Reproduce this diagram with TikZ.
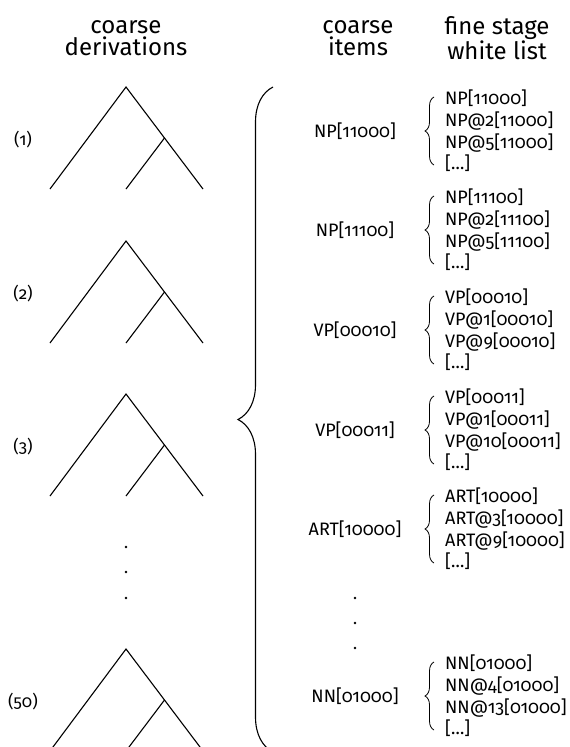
\documentclass[tikz,border=0pt]{standalone}
\usepackage{fontspec}
\setmainfont{Fira Sans}[Numbers=OldStyle]
\usetikzlibrary{positioning,decorations.pathreplacing}

\begin{document}
\begin{tikzpicture}[
  x=1pt, y=-1pt,
  header/.style={align=center, font=\fontsize{24}{22.5}\selectfont},
  item/.style={font=\fontsize{18}{20}\selectfont},
  number/.style={font=\fontsize{17}{20}\selectfont},
  whitelist/.style={align=left, font=\fontsize{18}{21.7}\selectfont, inner sep=2pt},
  tree/.style={line width=1.1pt},
  smallbrace/.style={decorate, decoration={brace, amplitude=9pt}, line width=0.8pt},
  bigbrace/.style={decorate, decoration={brace, amplitude=35pt}, line width=1.1pt}
  ]
  \useasboundingbox (0,0) rectangle (570,747);

  % column heads
  \node[header] (hderiv) at (126,38) {coarse\\derivations};
  \node[header] (hitems) at (358,38) {coarse\\items};
  \node[header] (hwhite) at (497,38) {fine stage\\white list};

  % coarse derivation trees
  \foreach \y/\n in {87/1, 241/2, 394/3, 649/50} {
    \coordinate (root\n) at (126,\y);
    \draw[tree] (root\n) ++(-76,102) -- (root\n) -- ++(77,102);
    \draw[tree] (root\n) ++(38.5,51) -- ++(-38.5,51);
    \node[number] (lbl\n) at (23,\y+53) {(\n)};
  }
  \foreach \y in {547,572,598}
    \fill (126,\y) circle (1.4);

  % the brace gathering all coarse items
  \coordinate (btop) at (273,87);
  \coordinate (bbot) at (273,752);
  \draw[bigbrace] (bbot) -- (btop);

  % coarse items with their fine white lists
  \foreach \c/\lab/\bits/\p/\q [count=\i] in {131/NP/11000/2/5, 230/NP/11100/2/5,
      330/VP/00010/1/9, 430/VP/00011/1/10, 529/ART/10000/3/9, 696/NN/01000/4/13} {
    \node[item] (item\i) at (355,\c) {\lab[\bits]};
    \node[whitelist, anchor=west] (list\i) at (443,\c)
      {\lab[\bits]\\\lab @\p[\bits]\\\lab @\q[\bits]\\{}[\ldots]};
    \draw[smallbrace] ([shift={(-9,34)}]list\i.west) -- ([shift={(-9,-34)}]list\i.west);
  }
  \foreach \y in {598,623,648}
    \fill (355,\y) circle (1.4);
\end{tikzpicture}
\end{document}
